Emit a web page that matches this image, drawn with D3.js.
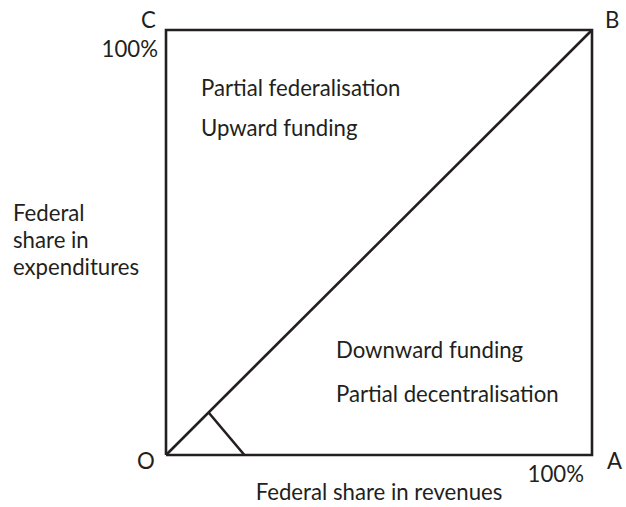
<!DOCTYPE html>
<html><head><meta charset="utf-8">
<script src="https://cdn.jsdelivr.net/npm/d3@7/dist/d3.min.js"></script>
<style>body{margin:0;background:#fff}svg{display:block}text{font-family:Lato,"Open Sans",sans-serif;fill:#231f20}</style>
</head><body>
<svg id="c" width="626" height="507"></svg>
<script>
// Data (shares, 0..1)
const frame = [[0,0],[1,0],[1,1],[0,1],[0,0]];
const diagonal = [[0,0],[1,1]];
const marker = [[0.1,0.1],[0.184,0]];
const cornerLabels = [
  {t:"O", x:0, y:0, pos:"bl"},
  {t:"A", x:1, y:0, pos:"br"},
  {t:"B", x:1, y:1, pos:"tr"},
  {t:"C", x:0, y:1, pos:"tl"}
];
const tickLabels = [
  {t:"100%", x:0, y:1, axis:"y"},
  {t:"100%", x:1, y:0, axis:"x"}
];
const regionLabels = [
  {t:"Partial federalisation", x:0.082, y:0.845},
  {t:"Upward funding", x:0.082, y:0.751},
  {t:"Downward funding", x:0.399, y:0.228},
  {t:"Partial decentralisation", x:0.399, y:0.125}
];
const xTitle = "Federal share in revenues";
const yTitle = ["Federal", "share in", "expenditures"];

const svg = d3.select("#c");
const x = d3.scaleLinear().domain([0,1]).range([166,592]);
const y = d3.scaleLinear().domain([0,1]).range([455,30]);
const line = d3.line().x(d=>x(d[0])).y(d=>y(d[1]));
const stroke = "#231f20";

// fit font size so the x title spans like the reference (~247px)
const probe = svg.append("text").attr("font-size",18).text(xTitle);
const fs = Math.round(18*247/probe.node().getComputedTextLength()*10)/10;
probe.remove();

svg.append("path").attr("d", line(frame)).attr("fill","none").attr("stroke",stroke).attr("stroke-width",2.6).attr("stroke-linejoin","miter");
svg.append("path").attr("d", line(diagonal)).attr("fill","none").attr("stroke",stroke).attr("stroke-width",2.6);
svg.append("path").attr("d", line(marker)).attr("fill","none").attr("stroke",stroke).attr("stroke-width",2.6);

const off = {bl:[-29,14], br:[15,14], tr:[13,-2], tl:[-25,-2]};
svg.selectAll(".corner").data(cornerLabels).join("text").attr("class","corner")
  .attr("x", d=>x(d.x)+off[d.pos][0]).attr("y", d=>y(d.y)+off[d.pos][1])
  .attr("text-anchor","start").attr("font-size",fs).text(d=>d.t);

svg.selectAll(".tick").data(tickLabels).join("text").attr("class","tick")
  .attr("x", d=> d.axis==="y" ? x(d.x)-8 : x(d.x)-8)
  .attr("y", d=> d.axis==="y" ? y(d.y)+27 : y(d.y)+27)
  .attr("text-anchor","end").attr("font-size",fs).text(d=>d.t);

svg.selectAll(".region").data(regionLabels).join("text").attr("class","region")
  .attr("x", d=>x(d.x)).attr("y", d=>y(d.y))
  .attr("font-size",fs).text(d=>d.t);

svg.append("text").attr("x",(x(0)+x(1))/2).attr("y",500).attr("text-anchor","middle").attr("font-size",fs).text(xTitle);
svg.selectAll(".ytitle").data(yTitle).join("text").attr("class","ytitle")
  .attr("x",13).attr("y",(d,i)=>221+i*27).attr("font-size",fs).text(d=>d);
</script>
</body></html>
